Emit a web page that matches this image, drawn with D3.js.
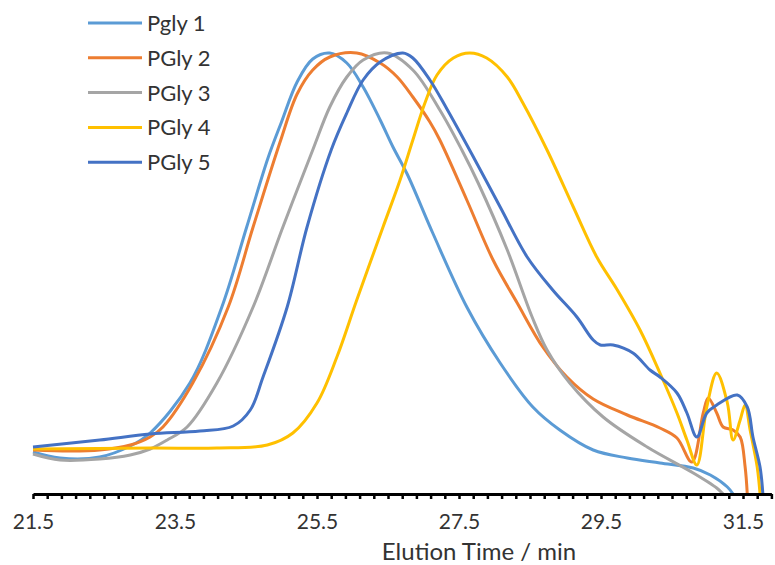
<!DOCTYPE html>
<html>
<head>
<meta charset="utf-8">
<script src="https://cdn.jsdelivr.net/npm/d3@7"></script>
<style>
  body { margin: 0; background: #fff; }
  svg { display: block; font-family: Lato, "Open Sans", sans-serif; }
</style>
</head>
<body>
<svg width="775" height="565"></svg>
<script>
// elution time (min), detector signal (a.u.)
const pgly1 = [[21.50,42],[21.88,36],[22.44,37],[22.87,48],[23.15,61],[23.71,111],[24.16,187],[24.51,267],[24.81,336],[25.00,372],[25.22,412],[25.44,435],[25.68,441],[25.92,431],[26.15,407],[26.39,374],[26.57,347],[26.77,320],[27.13,261],[27.61,187],[28.08,131],[28.54,87],[28.92,64],[29.39,44],[29.87,36],[30.33,31],[30.80,26],[31.04,19],[31.28,7],[31.36,0]];
const pgly2 = [[21.50,44],[22.02,43],[22.44,44],[22.87,49],[23.15,57],[23.33,67],[23.75,111],[24.25,187],[24.60,267],[24.98,352],[25.22,400],[25.44,424],[25.68,437],[26.06,441],[26.39,431],[26.63,417],[26.85,397],[27.09,372],[27.23,354],[27.61,294],[27.98,234],[28.32,191],[28.68,147],[29.02,117],[29.39,95],[29.87,79],[30.33,66],[30.57,56],[30.78,32],[30.94,81],[31.01,96],[31.13,81],[31.22,67],[31.36,64],[31.46,57],[31.53,27],[31.56,0]];
const pgly3 = [[21.50,40],[21.88,34],[22.44,35],[22.87,39],[23.15,45],[23.39,54],[23.67,67],[24.09,111],[24.60,187],[25.02,267],[25.44,344],[25.68,387],[25.92,417],[26.15,434],[26.49,441],[26.85,424],[27.23,384],[27.54,344],[27.77,311],[28.18,244],[28.53,177],[28.74,144],[29.06,111],[29.53,77],[30.15,47],[30.80,21],[31.13,6],[31.22,0]];
const pgly4 = [[21.50,45],[23.15,46],[24.09,46],[24.80,49],[25.16,61],[25.50,91],[25.78,137],[26.06,194],[26.43,267],[26.67,314],[26.85,354],[27.02,391],[27.19,419],[27.42,436],[27.65,441],[27.89,436],[28.18,417],[28.40,391],[28.74,344],[29.11,287],[29.44,237],[29.73,204],[30.05,164],[30.33,121],[30.57,81],[30.71,54],[30.85,29],[30.99,87],[31.13,121],[31.28,91],[31.36,54],[31.46,74],[31.53,89],[31.60,64],[31.70,27],[31.74,0]];
const pgly5 = [[21.50,47],[22.44,54],[23.15,60],[23.85,63],[24.32,68],[24.56,84],[24.74,117],[25.08,187],[25.36,267],[25.70,344],[25.92,381],[26.15,414],[26.39,432],[26.71,441],[26.85,436],[27.09,414],[27.33,385],[27.68,340],[28.08,287],[28.46,237],[28.82,204],[29.16,177],[29.39,154],[29.49,149],[29.67,149],[29.95,141],[30.19,124],[30.33,117],[30.57,101],[30.71,81],[30.85,57],[30.99,81],[31.13,89],[31.42,99],[31.56,87],[31.64,57],[31.74,27],[31.78,0]];

const seriesNames = ["Pgly 1", "PGly 2", "PGly 3", "PGly 4", "PGly 5"];
const seriesData = [pgly1, pgly2, pgly3, pgly4, pgly5];
const colors = ["#5B9BD5", "#ED7D31", "#A5A5A5", "#FFC000", "#4472C4"];
const tickLabels = [21.5, 23.5, 25.5, 27.5, 29.5, 31.5];

const svg = d3.select("svg");

const x = d3.scaleLinear().domain([21.5, 31.9]).range([33, 771.4]);
const y = d3.scaleLinear().domain([0, 441]).range([494, 53]);

const line = d3.line()
    .x(d => x(d[0]))
    .y(d => y(d[1]))
    .curve(d3.curveCatmullRom.alpha(0.5));

// curves
svg.append("g")
    .selectAll("path")
    .data(seriesData)
    .join("path")
    .attr("fill", "none")
    .attr("stroke", (d, i) => colors[i])
    .attr("stroke-width", 3)
    .attr("stroke-linejoin", "round")
    .attr("d", line);

// x axis, minor tick every 0.2 min
const tickVals = d3.range(0, 53).map(i => +(21.5 + i * 0.2).toFixed(1));
const axis = svg.append("g")
    .attr("transform", `translate(0,${y(0)})`)
    .call(d3.axisBottom(x)
        .tickValues(tickVals)
        .tickSize(5)
        .tickSizeOuter(0)
        .tickFormat(d => tickLabels.includes(d) ? d.toFixed(1) : ""));

axis.select(".domain").attr("stroke", "#000").attr("stroke-width", 3);
axis.selectAll(".tick line").attr("stroke", "#000").attr("stroke-width", 2.5);
axis.selectAll(".tick text")
    .attr("y", 20)
    .attr("dy", "0.71em")
    .attr("fill", "#333")
    .style("font-size", "21px")
    .style("font-family", "Lato, sans-serif");

svg.append("text")
    .attr("x", 479)
    .attr("y", 560)
    .attr("text-anchor", "middle")
    .attr("fill", "#333")
    .style("font-size", "24px")
    .text("Elution Time / min");

// legend
const legend = svg.append("g")
    .selectAll("g")
    .data(seriesNames)
    .join("g")
    .attr("transform", (d, i) => `translate(88,${23 + i * 34.8})`);

legend.append("line")
    .attr("x1", 0).attr("x2", 54)
    .attr("stroke", (d, i) => colors[i])
    .attr("stroke-width", 3);

legend.append("text")
    .attr("x", 59)
    .attr("dy", "0.36em")
    .attr("fill", "#333")
    .style("font-size", "22px")
    .text(d => d);
</script>
</body>
</html>
